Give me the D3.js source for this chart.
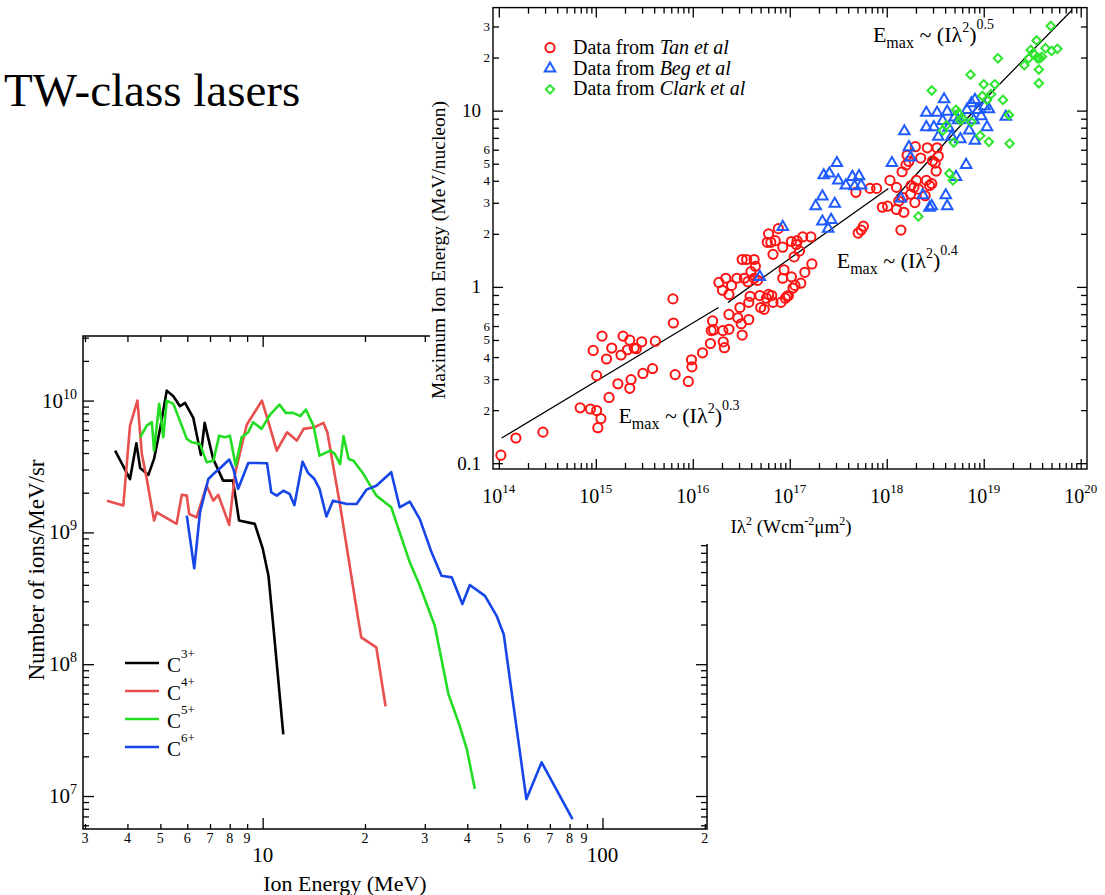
<!DOCTYPE html>
<html><head><meta charset="utf-8">
<script src="https://cdn.jsdelivr.net/npm/d3@7"></script>
<style>body{margin:0;background:#fff;}svg{display:block;}text{font-family:"Liberation Serif","Times New Roman",serif;fill:#000;}</style>
</head><body><svg id="c" width="1105" height="895"></svg>
<script>
// ================= DATA =================
const pageTitle = "TW-class lasers";

// ---- lower chart: carbon ion spectra (energy MeV, ions/MeV/sr)
const seriesNames = ["3+", "4+", "5+", "6+"];
const c3 = [[3.68,4.17e9],[4.07,2.54e9],[4.25,4.75e9],[4.36,3.08e9],[4.61,2.73e9],[4.79,3.61e9],[4.99,6.1e9],[5.22,1.19e10],[5.46,1.08e10],[5.71,9.06e9],[5.91,9.6e9],[6.25,7.39e9],[6.58,3.87e9],[6.75,6.77e9],[7.15,3.61e9],[7.65,2.47e9],[8.18,2.47e9],[8.52,1.23e9],[9.48,1.16e9],[10.0,7.57e8],[10.4,4.69e8],[10.7,2.2e8],[11.5,2.94e7]];
const c4 = [[3.48,1.74e9],[3.89,1.6e9],[4.07,6.46e9],[4.28,1.0e10],[4.41,3.94e9],[4.56,2.54e9],[4.79,1.23e9],[4.88,1.42e9],[5.58,1.16e9],[5.78,1.93e9],[5.98,1.9e9],[6.08,1.38e9],[6.39,1.3e9],[6.84,2.26e9],[7.16,1.74e9],[7.4,1.93e9],[7.66,1.51e9],[7.97,1.14e9],[8.29,2.77e9],[8.97,6.53e9],[9.95,1.0e10],[10.4,6.86e9],[11.0,4.17e9],[11.8,5.75e9],[12.6,4.97e9],[13.2,6.1e9],[14.2,6.28e9],[15.1,6.77e9],[15.5,5.75e9],[16.9,1.6e9],[19.1,2.2e8],[19.5,1.6e8],[21.6,1.34e8],[23.0,4.79e7]];
const c5 = [[4.36,5.27e9],[4.56,6.46e9],[4.72,6.86e9],[4.79,4.17e9],[4.96,9.44e9],[5.10,5.27e9],[5.22,1.0e10],[5.46,9.44e9],[5.78,6.46e9],[5.98,5.12e9],[6.18,4.83e9],[6.54,4.69e9],[6.84,3.41e9],[7.16,3.5e9],[7.45,5.42e9],[7.74,5.27e9],[8.01,5.42e9],[8.33,3.21e9],[8.67,5.27e9],[9.07,5.75e9],[9.38,6.86e9],[9.93,6.1e9],[10.5,7.79e9],[11.2,9.33e9],[11.7,8.07e9],[12.3,8.07e9],[12.9,7.62e9],[13.4,8.55e9],[14.1,6.46e9],[14.7,3.82e9],[15.8,4.17e9],[16.3,3.94e9],[16.9,3.3e9],[17.3,5.37e9],[17.9,3.61e9],[18.5,3.5e9],[19.8,2.77e9],[21.6,1.9e9],[23.9,1.55e9],[25.3,1.0e9],[27.1,5.93e8],[29.0,3.94e8],[32.1,1.96e8],[35.2,5.93e7],[38.0,3.41e7],[39.9,2.26e7],[42.1,1.13e7]];
const c6 = [[5.98,1.34e9],[6.29,5.34e8],[6.54,1.42e9],[6.92,2.54e9],[7.16,2.77e9],[7.49,3.07e9],[7.97,3.57e9],[8.2,3.03e9],[8.47,2.14e9],[9.07,3.36e9],[9.6,3.36e9],[10.3,3.35e9],[10.6,2.01e9],[11.0,1.9e9],[11.5,2.07e9],[12.0,1.96e9],[12.4,1.61e9],[13.1,3.44e9],[13.6,2.83e9],[14.2,2.54e9],[14.7,2.14e9],[15.4,1.32e9],[16.1,1.74e9],[17.7,1.64e9],[18.9,1.64e9],[20.2,2.11e9],[21.6,2.26e9],[23.9,2.86e9],[25.3,1.55e9],[27.1,1.71e9],[29.0,1.26e9],[31.4,7.06e8],[33.6,4.69e8],[36.0,4.56e8],[38.7,2.86e8],[40.7,3.99e8],[45.1,3.3e8],[48.8,2.33e8],[51.2,1.69e8],[59.7,9.46e6],[66.2,1.8e7],[81.6,6.67e6]];
const lowerColors = ["#000000", "#e8504f", "#22dd22", "#1646e8"];
const lowerXTitle = "Ion Energy (MeV)";
const lowerYTitle = "Number of ions/MeV/sr";
const lowerXMajor = [10, 100];
const lowerXMinor = [3,4,5,6,7,8,9,20,30,40,50,60,70,80,90,200];
const lowerXSmallLabels = [[3,"3"],[4,"4"],[5,"5"],[6,"6"],[7,"7"],[8,"8"],[9,"9"],[20,"2"],[30,"3"],[40,"4"],[50,"5"],[60,"6"],[70,"7"],[80,"8"],[90,"9"],[200,"2"]];
const lowerXBigLabels = [[10,"10"],[100,"100"]];
const lowerYMajor = [1e7, 1e8, 1e9, 1e10];
const lowerYMinor = [6e6,7e6,8e6,9e6,2e7,3e7,4e7,5e7,6e7,7e7,8e7,9e7,2e8,3e8,4e8,5e8,6e8,7e8,8e8,9e8,2e9,3e9,4e9,5e9,6e9,7e9,8e9,9e9,2e10,3e10];
const lowerYLabels = [[1e7,"7"],[1e8,"8"],[1e9,"9"],[1e10,"10"]];

// ---- upper chart: max ion energy vs I*lambda^2  ([W cm^-2 um^2, MeV/nucleon])
const tanData = [[1.05e14,0.111],[1.5e14,0.139],[2.85e14,0.150],[6.9e14,0.206],[8.8e14,0.203],[1.02e15,0.199],[1.05e15,0.159],[1.13e15,0.179],[9.4e14,0.436],[1.02e15,0.314],[1.16e15,0.526],[1.29e15,0.390],[1.46e15,0.450],[1.37e15,0.236],[1.69e15,0.282],[1.91e15,0.526],[1.82e15,0.411],[2.24e15,0.499],[2.12e15,0.440],[2.31e15,0.298],[2.24e15,0.266],[2.49e15,0.450],[2.62e15,0.446],[2.97e15,0.488],[3.06e15,0.323],[3.85e15,0.344],[4.11e15,0.492],[6.24e15,0.855],[6.31e15,0.624],[6.58e15,0.318],[9.0e15,0.291],[9.7e15,0.386],[9.8e15,0.352],[1.26e16,0.423],[1.52e16,0.477],[1.55e16,0.565],[1.6e16,0.641],[1.64e16,0.570],[2.06e16,0.488],[2.12e16,0.452],[2.04e16,0.565],[2.36e16,0.575],[2.36e16,0.698],[2.91e16,0.668],[3.06e16,0.764],[3.16e16,0.618],[3.23e16,0.533],[3.78e16,0.653],[3.78e16,0.817],[3.9e16,0.885],[1.86e16,1.06],[2.02e16,0.957],[2.19e16,1.12],[2.51e16,1.02],[2.36e16,0.906],[2.85e16,1.12],[3.23e16,1.43],[3.59e16,1.43],[4.29e16,1.43],[3.7e16,1.07],[3.4e16,1.12],[3.98e16,1.22],[4.42e16,1.31],[4.29e16,1.12],[4.66e16,1.09],[4.91e16,0.893],[5.01e16,0.764],[5.45e16,0.746],[5.74e16,0.863],[6.05e16,0.906],[6.72e16,0.817],[6.52e16,0.893],[8.11e16,0.817],[9.01e16,0.863],[9.4e16,0.885],[6.05e16,2.00],[5.86e16,1.79],[6.38e16,1.79],[7.08e16,1.83],[7.62e16,2.14],[6.72e16,1.53],[8.46e16,1.68],[8.73e16,1.25],[8.46e16,1.12],[9.69e16,0.893],[1.04e17,1.14],[1.08e17,0.986],[1.13e17,1.02],[1.04e17,1.81],[1.11e17,1.48],[1.19e17,1.83],[1.17e17,1.74],[1.26e17,1.60],[1.3e17,1.05],[1.36e17,1.92],[1.43e17,1.21],[1.65e17,1.92],[1.69e17,1.35],[4.81e17,3.44],[5.07e17,2.02],[5.45e17,2.10],[5.74e17,2.21],[6.72e17,3.62],[7.86e17,3.62],[9.0e17,2.83],[1.02e18,2.87],[1.08e18,4.02],[1.26e18,2.75],[1.33e18,3.07],[1.26e18,3.67],[1.4e18,2.10],[1.5e18,2.65],[1.47e18,3.21],[1.44e18,4.50],[1.58e18,4.92],[1.62e18,5.58],[1.69e18,5.15],[1.78e18,3.76],[1.76e18,3.36],[1.91e18,3.67],[1.95e18,3.01],[2.02e18,4.02],[2.12e18,3.59],[1.97e18,6.24],[2.24e18,5.38],[2.49e18,3.29],[2.56e18,4.02],[2.62e18,6.15],[2.76e18,3.76],[2.91e18,3.85],[2.97e18,5.19],[3.16e18,5.04],[3.23e18,4.54],[3.4e18,5.51],[3.3e18,6.15]];
const begData = [[4.91e16,1.14],[8.46e16,2.19],[1.85e17,2.87],[2.17e17,3.26],[2.24e17,4.30],[2.56e17,4.40],[3.06e17,5.04],[2.91e17,2.96],[2.17e17,2.35],[2.67e17,2.40],[2.49e17,2.14],[3.16e17,4.02],[3.78e17,3.76],[4.42e17,4.21],[5.18e17,4.25],[5.45e17,3.76],[4.66e17,3.72],[1.13e18,5.04],[1.52e18,7.64],[1.4e18,3.17],[1.69e18,6.21],[1.76e18,5.43],[2.36e18,3.31],[2.56e18,9.73],[3.3e18,9.73],[2.56e18,8.06],[3.06e18,8.06],[3.4e18,7.11],[3.9e18,11.6],[4.2e18,9.87],[3.78e18,8.74],[4.33e18,8.00],[5.01e18,9.14],[4.66e18,7.11],[5.74e18,6.89],[6.18e18,8.89],[6.72e18,10.1],[7.46e18,11.0],[8.11e18,11.5],[8.73e18,10.1],[9.4e18,9.31],[1.02e19,10.6],[1.08e19,8.06],[1.13e19,10.2],[8.11e18,6.74],[6.58e18,4.92],[5.18e18,4.21],[4.06e18,3.31],[4.2e18,2.87],[2.91e18,2.87],[2.76e18,2.81],[1.69e19,9.22],[5.45e18,8.82],[7.86e18,8.82],[7.08e18,7.71]];
const clarkData = [[2.91e18,13.0],[2.12e18,2.51],[3.78e18,7.71],[4.11e18,8.24],[4.42e18,4.40],[4.81e18,4.02],[4.91e18,6.59],[5.18e18,10.1],[5.45e18,9.65],[5.74e18,8.82],[6.05e18,9.01],[7.31e18,16.0],[7.46e18,8.62],[9.2e18,7.21],[1.0e19,14.1],[1.08e19,11.5],[9.69e18,12.1],[1.13e19,6.65],[1.19e19,12.4],[1.3e19,14.1],[1.4e19,19.8],[1.58e19,11.5],[1.82e19,9.44],[1.85e19,6.50],[2.62e19,18.1],[2.91e19,19.8],[3.06e19,22.1],[3.51e19,25.0],[3.23e19,21.2],[3.59e19,19.8],[3.78e19,19.8],[3.98e19,20.2],[3.7e19,17.1],[3.7e19,14.3],[4.33e19,22.6],[4.91e19,30.2],[5.01e19,21.8],[5.74e19,22.4]];
const fitSeg1 = [[1.07e14,0.139],[1.84e16,0.764]];
const fitSeg2 = [[2.31e16,0.817],[1.04e18,3.62]];
const fitSeg3 = [[1.26e18,3.27],[9.2e18,10.9],[8.1e19,37.1]];
const legendNames = ["Tan et al", "Beg et al", "Clark et al"];
const scatterColors = ["#ff1414", "#1f5bff", "#2ee62e"];
const fitLabels = [["0.3", 1.71e15, 0.168], ["0.4", 3.05e17, 1.275], ["0.5", 7.2e17, 24.6]];
const scatterXLabels = [[1e14,"14"],[1e15,"15"],[1e16,"16"],[1e17,"17"],[1e18,"18"],[1e19,"19"],[1e20,"20"]];
const scatterXMinor = [];
for (let k = 14; k < 20; k++) for (let m = 2; m <= 9; m++) scatterXMinor.push(m * Math.pow(10, k));
const scatterYMajor = [0.1, 1, 10];
const scatterYMinor = [0.2,0.3,0.4,0.5,0.6,0.7,0.8,0.9,2,3,4,5,6,7,8,9,20,30];
const scatterYBigLabels = [[0.1,"0.1"],[1,"1"],[10,"10"]];
const scatterYSmallLabels = [[0.2,"2"],[0.3,"3"],[0.4,"4"],[0.5,"5"],[0.6,"6"],[2,"2"],[3,"3"],[4,"4"],[5,"5"],[6,"6"],[20,"2"],[30,"3"]];

// ================= DRAW =================
const svg = d3.select("#c");

function ticks(g, axis, tr) {
  const a = g.append("g").attr("transform", tr).call(axis);
  a.select(".domain").remove();
  a.selectAll("text").remove();
  a.selectAll("line").attr("stroke", "#000").attr("stroke-width", 1.3);
}
function supText(g, x, y, base, sup, size, supSize, anchor, rise) {
  const t = g.append("text").attr("x", x).attr("y", y).attr("font-size", size).attr("text-anchor", anchor);
  t.append("tspan").text(base);
  t.append("tspan").attr("font-size", supSize).attr("dy", -rise).text(sup);
  return t;
}

// title
svg.append("text").attr("x", 4).attr("y", 106).attr("font-size", 47).text(pageTitle);

// ---------- lower chart ----------
const L = {l: 83, r: 707, t: 336, b: 829};
const lx = d3.scaleLog().domain([2.96, 203]).range([L.l, L.r]);
const ly = d3.scaleLog().domain([5.62e6, 3.09e10]).range([L.b, L.t]);
const gL = svg.append("g");
const lineL = d3.line().x(d => lx(d[0])).y(d => ly(d[1]));
[c3, c4, c5, c6].forEach((s, i) => {
  gL.append("path").attr("d", lineL(s)).attr("fill", "none").attr("stroke", lowerColors[i])
    .attr("stroke-width", 2.6).attr("stroke-linejoin", "round");
});
gL.append("rect").attr("x", L.l).attr("y", L.t).attr("width", L.r - L.l).attr("height", L.b - L.t)
  .attr("fill", "none").attr("stroke", "#000").attr("stroke-width", 1.5);
ticks(gL, d3.axisLeft(ly).tickValues(lowerYMajor).tickSize(-11).tickFormat(""), `translate(${L.l},0)`);
ticks(gL, d3.axisLeft(ly).tickValues(lowerYMinor).tickSize(-6).tickFormat(""), `translate(${L.l},0)`);
ticks(gL, d3.axisRight(ly).tickValues(lowerYMajor).tickSize(-11).tickFormat(""), `translate(${L.r},0)`);
ticks(gL, d3.axisRight(ly).tickValues(lowerYMinor).tickSize(-6).tickFormat(""), `translate(${L.r},0)`);
ticks(gL, d3.axisBottom(lx).tickValues(lowerXMajor).tickSize(-11).tickFormat(""), `translate(0,${L.b})`);
ticks(gL, d3.axisBottom(lx).tickValues(lowerXMinor).tickSize(-5).tickFormat(""), `translate(0,${L.b})`);
ticks(gL, d3.axisTop(lx).tickValues(lowerXMajor).tickSize(-11).tickFormat(""), `translate(0,${L.t})`);
ticks(gL, d3.axisTop(lx).tickValues(lowerXMinor).tickSize(-6).tickFormat(""), `translate(0,${L.t})`);
lowerXSmallLabels.forEach(([v, s]) => gL.append("text").attr("x", lx(v) - (v === 90 ? 3 : 0)).attr("y", L.b + 14)
  .attr("font-size", 14).attr("text-anchor", "middle").text(s));
lowerXBigLabels.forEach(([v, s]) => gL.append("text").attr("x", lx(v)).attr("y", L.b + 33)
  .attr("font-size", 21).attr("text-anchor", "middle").text(s));
lowerYLabels.forEach(([v, s]) => supText(gL, 77, ly(v) + 7, "10", s, 21, 14, "end", 9));
gL.append("text").attr("x", lx(Math.sqrt(10 * 30.5))).attr("y", 891).attr("font-size", 22)
  .attr("text-anchor", "middle").text(lowerXTitle);
gL.append("text").attr("transform", "translate(44,570) rotate(-90)").attr("font-size", 23)
  .attr("text-anchor", "middle").text(lowerYTitle);
// legend
seriesNames.forEach((n, i) => {
  const y = 663 + i * 28;
  gL.append("line").attr("x1", 125).attr("x2", 159).attr("y1", y).attr("y2", y)
    .attr("stroke", lowerColors[i]).attr("stroke-width", 2.6);
  supText(gL, 167, y + 9, "C", n, 21, 13, "start", 14);
});

// ---------- upper (scatter) chart ----------
svg.append("rect").attr("x", 430).attr("y", 0).attr("width", 675).attr("height", 544).attr("fill", "#fff");
const S = {l: 493, r: 1087, t: 7.6, b: 469};
const sx = d3.scaleLog().domain([8.71e13, 1.161e20]).range([S.l, S.r]);
const sy = d3.scaleLog().domain([0.0927, 38.4]).range([S.b, S.t]);
const gS = svg.append("g");
gS.append("rect").attr("x", S.l).attr("y", S.t).attr("width", S.r - S.l).attr("height", S.b - S.t)
  .attr("fill", "none").attr("stroke", "#000").attr("stroke-width", 1.4);
ticks(gS, d3.axisLeft(sy).tickValues(scatterYMajor).tickSize(-10).tickFormat(""), `translate(${S.l},0)`);
ticks(gS, d3.axisLeft(sy).tickValues(scatterYMinor).tickSize(-6).tickFormat(""), `translate(${S.l},0)`);
ticks(gS, d3.axisRight(sy).tickValues(scatterYMajor).tickSize(-10).tickFormat(""), `translate(${S.r},0)`);
ticks(gS, d3.axisRight(sy).tickValues(scatterYMinor).tickSize(-6).tickFormat(""), `translate(${S.r},0)`);
ticks(gS, d3.axisBottom(sx).tickValues(scatterXLabels.map(d => d[0])).tickSize(-10).tickFormat(""), `translate(0,${S.b})`);
ticks(gS, d3.axisBottom(sx).tickValues(scatterXMinor).tickSize(-6).tickFormat(""), `translate(0,${S.b})`);
ticks(gS, d3.axisTop(sx).tickValues(scatterXLabels.map(d => d[0])).tickSize(-10).tickFormat(""), `translate(0,${S.t})`);
ticks(gS, d3.axisTop(sx).tickValues(scatterXMinor).tickSize(-6).tickFormat(""), `translate(0,${S.t})`);
scatterXLabels.forEach(([v, s]) => supText(gS, sx(v), 503, "10", s, 20, 13, "middle", 10));
scatterYBigLabels.forEach(([v, s]) => gS.append("text").attr("x", 481).attr("y", sy(v) + 6.5)
  .attr("font-size", 19).attr("text-anchor", "end").text(s));
scatterYSmallLabels.forEach(([v, s]) => gS.append("text").attr("x", 490).attr("y", sy(v) + 4.5)
  .attr("font-size", 13).attr("text-anchor", "end").text(s));
// axis titles
gS.append("text").attr("transform", "translate(445,250) rotate(-90)").attr("font-size", 19.5)
  .attr("text-anchor", "middle").text("Maximum Ion Energy (MeV/nucleon)");
const xt = gS.append("text").attr("x", 791).attr("y", 533).attr("font-size", 19).attr("text-anchor", "middle");
xt.append("tspan").text("Iλ");
xt.append("tspan").attr("font-size", 12).attr("dy", -8).text("2");
xt.append("tspan").attr("dy", 8).text(" (Wcm");
xt.append("tspan").attr("font-size", 12).attr("dy", -8).text("-2");
xt.append("tspan").attr("dy", 8).text("μm");
xt.append("tspan").attr("font-size", 12).attr("dy", -8).text("2");
xt.append("tspan").attr("dy", 8).text(")");
// fit lines
const lineS = d3.line().x(d => sx(d[0])).y(d => sy(d[1]));
[fitSeg1, fitSeg2, fitSeg3].forEach(s => gS.append("path").attr("d", lineS(s)).attr("fill", "none")
  .attr("stroke", "#000").attr("stroke-width", 1.3));
// markers
const tri = d3.symbol(d3.symbolTriangle, 48)();
const dia = d3.symbol(d3.symbolSquare, 36)();
gS.append("g").selectAll("circle").data(tanData).join("circle")
  .attr("cx", d => sx(d[0])).attr("cy", d => sy(d[1])).attr("r", 4.6)
  .attr("fill", "none").attr("stroke", scatterColors[0]).attr("stroke-width", 2);
gS.append("g").selectAll("path").data(begData).join("path").attr("d", tri)
  .attr("transform", d => `translate(${sx(d[0])},${sy(d[1])})`)
  .attr("fill", "none").attr("stroke", scatterColors[1]).attr("stroke-width", 2);
gS.append("g").selectAll("path").data(clarkData).join("path").attr("d", dia)
  .attr("transform", d => `translate(${sx(d[0])},${sy(d[1])}) rotate(45)`)
  .attr("fill", "none").attr("stroke", scatterColors[2]).attr("stroke-width", 2);
// fit labels
fitLabels.forEach(([p, xv, yv]) => {
  const t = gS.append("text").attr("x", sx(xv)).attr("y", sy(yv)).attr("font-size", 22);
  t.append("tspan").text("E");
  t.append("tspan").attr("font-size", 16).attr("dy", 6).text("max");
  t.append("tspan").attr("dy", -6).text(" ~ (Iλ");
  t.append("tspan").attr("font-size", 14).attr("dy", -10).text("2");
  t.append("tspan").attr("dy", 10).text(")");
  t.append("tspan").attr("font-size", 14).attr("dy", -13).text(p);
});
// legend
const markers = [null, tri, dia];
legendNames.forEach((n, i) => {
  const y = 47.7 + i * 20.8;
  if (i === 0) gS.append("circle").attr("cx", 550).attr("cy", y).attr("r", 4.6).attr("fill", "none")
    .attr("stroke", scatterColors[0]).attr("stroke-width", 2);
  else gS.append("path").attr("d", markers[i])
    .attr("transform", `translate(550,${y})` + (i === 2 ? " rotate(45)" : "")).attr("fill", "none")
    .attr("stroke", scatterColors[i]).attr("stroke-width", 2);
  const t = gS.append("text").attr("x", 573).attr("y", y + 6).attr("font-size", 20);
  t.append("tspan").text("Data from ");
  t.append("tspan").attr("font-style", "italic").text(n);
});
</script></body></html>
